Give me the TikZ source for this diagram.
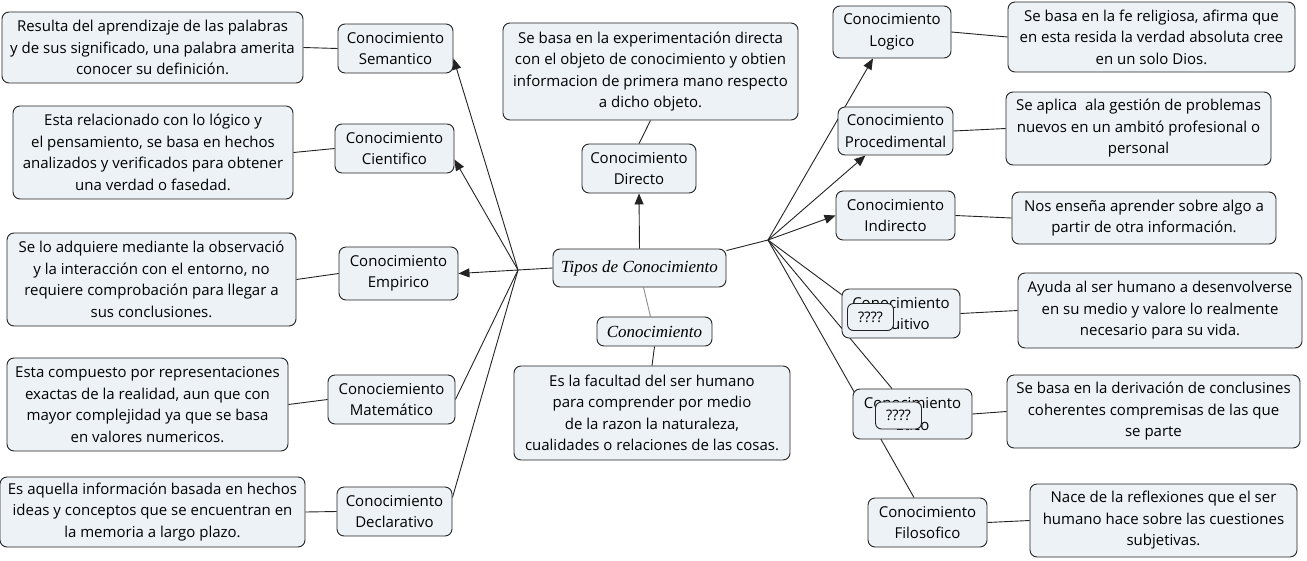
\documentclass[tikz,border=0pt]{standalone}
\usepackage{fontspec}
\setmainfont{Open Sans}
\newfontfamily\scriptf{Liberation Serif}
\usetikzlibrary{arrows.meta,backgrounds}
\definecolor{boxfill}{RGB}{236,242,245}
\definecolor{edge}{RGB}{35,35,35}
\tikzset{
  box/.style={draw=edge, fill=boxfill, line width=0.9pt, rounded corners=7pt, align=center,
    inner sep=0pt, font=\fontsize{15}{21.5}\selectfont},
  titlebox/.style={box, font=\scriptf\itshape\fontsize{17}{20}\selectfont},
  qbox/.style={box, rounded corners=6pt, font=\fontsize{14.5}{16}\selectfont},
  link/.style={draw=edge, line width=0.9pt},
  arrowlink/.style={link, -{Triangle[length=11pt,width=9pt]}},
  faint/.style={draw=black!45, line width=0.9pt}
}
\begin{document}
\begin{tikzpicture}[x=1pt,y=-1pt]
\useasboundingbox (0,0) rectangle (1307,560);
% left column
\node[box, minimum width=301, minimum height=71] (d1) at (152.5,47.5) {Resulta del aprendizaje de las palabras\\y de sus significado, una palabra amerita\\conocer su definición.};
\node[box, minimum width=115, minimum height=49] (sem) at (395.5,48.5) {Conocimiento\\Semantico};
\node[box, minimum width=280, minimum height=93] (d2) at (153,152.5) {Esta relacionado con lo lógico y\\el pensamiento, se basa en hechos\\analizados y verificados para obtener\\una verdad o fasedad.};
\node[box, minimum width=119, minimum height=49] (cie) at (394.5,148.5) {Conocimiento\\Cientifico};
\node[box, minimum width=289, minimum height=93] (d3) at (151.5,279.5) {Se lo adquiere mediante la observació\\y la interacción con el entorno, no\\requiere comprobación para llegar a\\sus conclusiones.};
\node[box, minimum width=119, minimum height=53] (emp) at (398.5,273.5) {Conocimiento\\Empirico};
\node[box, minimum width=281, minimum height=93] (d4) at (147.5,404.5) {Esta compuesto por representaciones\\exactas de la realidad, aun que con\\mayor complejidad ya que se basa\\en valores numericos.};
\node[box, minimum width=127, minimum height=49] (mat) at (391.5,399.5) {Conociemiento\\Matemático};
\node[box, minimum width=305, minimum height=70] (d5) at (152.5,512) {Es aquella información basada en hechos\\ideas y conceptos que se encuentran en\\la memoria a largo plazo.};
\node[box, minimum width=115, minimum height=49] (dec) at (394.5,511.5) {Conocimiento\\Declarativo};
% centre
\node[box, minimum width=295, minimum height=97] (dtop) at (650.5,71.5) {Se basa en la experimentación directa\\con el objeto de conocimiento y obtien\\informacion de primera mano respecto\\a dicho objeto.};
\node[box, minimum width=114, minimum height=49] (dir) at (639,168.5) {Conocimiento\\Directo};
\node[titlebox, minimum width=173, minimum height=38] (tip) at (639.5,268) {Tipos de Conocimiento};
\node[titlebox, minimum width=115, minimum height=29] (kon) at (654.5,331.5) {Conocimiento};
\node[box, minimum width=276, minimum height=94] (db) at (652,413) {Es la facultad del ser humano\\para comprender por medio\\de la razon la naturaleza,\\cualidades o relaciones de las cosas.};
% right column
\node[box, minimum width=118, minimum height=52] (log) at (892,32) {Conocimiento\\Logico};
\node[box, minimum width=287, minimum height=70] (r1) at (1151.5,37) {Se basa en la fe religiosa, afirma que\\en esta resida la verdad absoluta cree\\en un solo Dios.};
\node[box, minimum width=115, minimum height=48] (pro) at (895.5,131) {Conocimiento\\Procedimental};
\node[box, minimum width=265, minimum height=73] (r2) at (1138.5,128.5) {Se aplica\ \ ala gestión de problemas\\nuevos en un ambitó profesional o\\personal};
\node[box, minimum width=119, minimum height=49] (ind) at (895.5,215.5) {Conocimiento\\Indirecto};
\node[box, minimum width=264, minimum height=52] (r3) at (1144,218) {Nos enseña aprender sobre algo a\\partir de otra información.};
\node[box, minimum width=118, minimum height=49] (int) at (901,313.5) {Conocimiento\\Intuitivo};
\node[box, minimum width=284, minimum height=75] (r4) at (1160,310.5) {Ayuda al ser humano a desenvolverse\\en su medio y valore lo realmente\\necesario para su vida.};
\node[box, minimum width=119, minimum height=50] (eti) at (912.5,414) {Conocimiento\\Ético};
\node[box, minimum width=293, minimum height=73] (r5) at (1153.5,411.5) {Se basa en la derivación de conclusines\\coherentes compremisas de las que\\se parte};
\node[box, minimum width=119, minimum height=49] (fil) at (927.5,522.5) {Conocimiento\\Filosofico};
\node[box, minimum width=267, minimum height=73] (r6) at (1163.5,520.5) {Nace de la reflexiones que el ser\\humano hace sobre las cuestiones\\subjetivas.};
\node[qbox, minimum width=46, minimum height=27] (q1) at (870.5,317) {????};
\node[qbox, minimum width=46, minimum height=27] (q2) at (898.5,415.5) {????};
% hubs
\coordinate (lh) at (518,270);
\coordinate (rh) at (768,240);
\begin{pgfonlayer}{background}
% left hub
\draw[link] (tip.west) -- (lh);
\draw[arrowlink] (lh) -- ([yshift=-10pt]sem.east);
\draw[arrowlink] (lh) -- ([yshift=-11pt]cie.east);
\draw[arrowlink] (lh) -- (emp.east);
\draw[link] (lh) -- (mat.east);
\draw[link] (lh) -- ([yshift=14pt]dec.east);
% left descriptions
\draw[link] (sem.west) -- (d1.east);
\draw[link] (cie.west) -- (d2.east);
\draw[link] (emp.west) -- (d3.east);
\draw[link] (mat.west) -- (d4.east);
\draw[link] (dec.west) -- (d5.east);
% centre
\draw[arrowlink] (tip.north) -- (dir.south);
\draw[link] (dir.north) -- (dtop.south);
\draw[faint] ([xshift=4pt]tip.south) -- ([xshift=-4pt]kon.north);
\draw[link] (kon.south) -- (db.north);
% right hub
\draw[link] ([yshift=-2pt]tip.north east) -- (rh);
\draw[arrowlink] (rh) -- ([xshift=-19pt]log.south);
\draw[arrowlink] (rh) -- ([xshift=-30pt]pro.south);
\draw[arrowlink] (rh) -- (ind.west);
\draw[link] (rh) -- ([yshift=-6pt]int.north west);
\draw[link] (rh) -- ([xshift=-20.5pt]eti.north);
\draw[link] (rh) -- ([xshift=-13.5pt]fil.north);
% right descriptions
\draw[link] (log.east) -- (r1.west);
\draw[link] (pro.east) -- (r2.west);
\draw[link] (ind.east) -- (r3.west);
\draw[link] (int.east) -- (r4.west);
\draw[link] (eti.east) -- (r5.west);
\draw[link] (fil.east) -- (r6.west);
\end{pgfonlayer}
\end{tikzpicture}
\end{document}
